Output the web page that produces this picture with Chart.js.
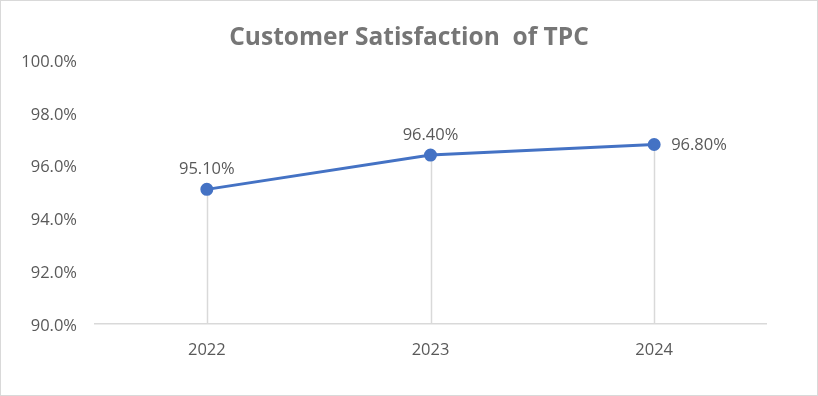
<!DOCTYPE html>
<html>
<head>
<meta charset="utf-8">
<script src="https://cdn.jsdelivr.net/npm/chart.js@4/dist/chart.umd.min.js"></script>
<style>
	html, body { margin: 0; padding: 0; background: #fff; }
	.chart-box {
		width: 818px;
		height: 396px;
		box-sizing: border-box;
		border: 1px solid #d9d9d9;
	}
	.chart-box canvas { display: block; }
</style>
</head>
<body>
<div class="chart-box">
	<canvas id="chart" width="816" height="394"></canvas>
</div>
<script>
const years = ['2022', '2023', '2024'];
const satisfaction = [95.1, 96.4, 96.8];
const labelSides = ['top', 'top', 'right'];

const textColor = '#595959';
const fontFamily = "'Open Sans', 'Noto Sans', sans-serif";

// vertical drop lines from each point down to the x axis
const dropLines = {
	id: 'dropLines',
	beforeDatasetsDraw(chart) {
		const { ctx, chartArea } = chart;
		const meta = chart.getDatasetMeta(0);

		ctx.save();
		ctx.strokeStyle = '#d9d9d9';
		ctx.lineWidth = 1.5;
		meta.data.forEach((point) => {
			ctx.beginPath();
			ctx.moveTo(Math.round(point.x) + 0.5, point.y);
			ctx.lineTo(Math.round(point.x) + 0.5, chartArea.bottom);
			ctx.stroke();
		});
		ctx.restore();
	},
};

const valueLabels = {
	id: 'valueLabels',
	afterDatasetsDraw(chart) {
		const { ctx } = chart;
		const meta = chart.getDatasetMeta(0);

		ctx.save();
		ctx.font = `16.5px ${fontFamily}`;
		ctx.fillStyle = textColor;
		ctx.textBaseline = 'middle';
		meta.data.forEach((point, index) => {
			const text = `${satisfaction[index].toFixed(2)}%`;

			if (labelSides[index] === 'right') {
				ctx.textAlign = 'left';
				ctx.fillText(text, point.x + 17, point.y + 1);
			} else {
				ctx.textAlign = 'center';
				ctx.fillText(text, point.x, point.y - 20);
			}
		});
		ctx.restore();
	},
};

new Chart(document.getElementById('chart'), {
	type: 'line',
	data: {
		labels: years,
		datasets: [{
			data: satisfaction,
			borderColor: '#4472c4',
			backgroundColor: '#4472c4',
			borderWidth: 3,
			pointRadius: 5,
			pointBackgroundColor: '#4472c4',
			pointBorderColor: '#4472c4',
			tension: 0,
		}],
	},
	options: {
		responsive: false,
		animation: false,
		layout: {
			padding: 0,
		},
		plugins: {
			legend: { display: false },
			tooltip: { enabled: false },
			title: {
				display: true,
				text: 'Customer Satisfaction  of TPC',
				color: '#767676',
				font: { family: fontFamily, size: 24.5, weight: 'bold' },
				padding: { top: 22.8, bottom: 6.8 },
			},
		},
		scales: {
			x: {
				offset: true,
				grid: { display: false, drawTicks: false },
				border: { display: true, color: '#d9d9d9', width: 1.5 },
				ticks: {
					color: textColor,
					font: { family: fontFamily, size: 16.5 },
					padding: 16,
				},
				afterFit(scale) {
					scale.height = 71;
				},
			},
			y: {
				min: 90,
				max: 100,
				grid: { display: false, drawTicks: false },
				border: { display: false },
				ticks: {
					stepSize: 2,
					color: textColor,
					font: { family: fontFamily, size: 16.5 },
					padding: 18,
					labelOffset: 2,
					callback: (value) => `${value.toFixed(1)}%`,
				},
				afterFit(scale) {
					scale.width = 94;
				},
			},
			// empty right-hand spacer so the title stays centred on the whole box
			spacer: {
				position: 'right',
				grid: { display: false, drawTicks: false },
				border: { display: false },
				ticks: { display: false },
				afterFit(scale) {
					scale.width = 51;
				},
			},
		},
	},
	plugins: [dropLines, valueLabels],
});
</script>
</body>
</html>
